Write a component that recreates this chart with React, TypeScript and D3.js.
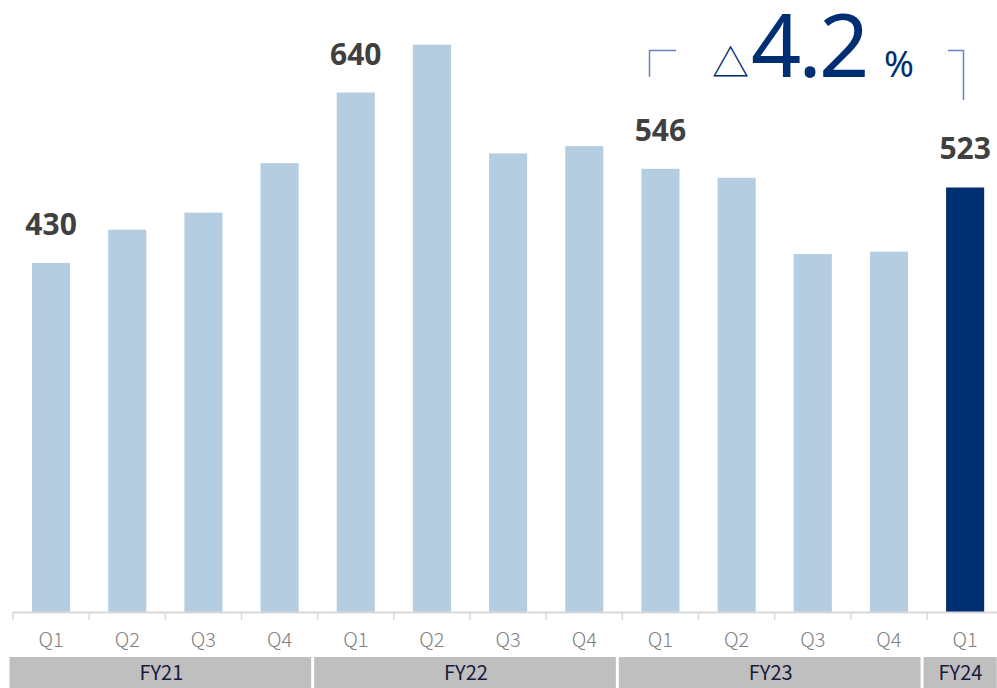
import React, { useRef, useEffect } from 'react';
import * as d3 from 'd3';

const quarters = ['Q1', 'Q2', 'Q3', 'Q4', 'Q1', 'Q2', 'Q3', 'Q4', 'Q1', 'Q2', 'Q3', 'Q4', 'Q1'];
const years = ['FY21', 'FY21', 'FY21', 'FY21', 'FY22', 'FY22', 'FY22', 'FY22', 'FY23', 'FY23', 'FY23', 'FY23', 'FY24'];
const sales = [430, 471, 492, 553, 640, 699, 565, 574, 546, 535, 441, 444, 523];
// which bars carry a value label
const labelled = [0, 4, 8, 12];
const yearGroups = ['FY21', 'FY22', 'FY23', 'FY24'];

function App() {
    const ref = useRef<SVGSVGElement>(null);

    useEffect(() => {
        const width = 997;
        const svg = d3.select(ref.current);
        svg.selectAll('*').remove();

        const keys = sales.map((d, i) => years[i] + quarters[i]);
        const step = 76.17;
        const x = d3.scaleBand().domain(keys).range([13, 13 + step * keys.length])
            .paddingInner(0.5).paddingOuter(0.25);
        const y = d3.scaleLinear().domain([0, 754]).range([612, 0]);

        const font = '"Noto Sans CJK JP", "Noto Sans", sans-serif';

        // bars
        svg.selectAll('rect.bar')
            .data(sales)
            .join('rect')
            .attr('class', 'bar')
            .attr('x', (d, i) => x(keys[i]))
            .attr('y', d => y(d))
            .attr('width', x.bandwidth())
            .attr('height', d => y(0) - y(d))
            .attr('fill', (d, i) => i === sales.length - 1 ? '#002e73' : '#b4cde0');

        // value labels
        svg.selectAll('text.val')
            .data(labelled)
            .join('text')
            .attr('class', 'val')
            .attr('x', i => x(keys[i]) + x.bandwidth() / 2)
            .attr('y', i => y(sales[i]) - 28)
            .attr('text-anchor', 'middle')
            .attr('fill', '#404040')
            .style('font-family', '"Noto Sans", sans-serif')
            .style('font-weight', 'bold')
            .style('font-size', '30px')
            .text(i => sales[i]);

        // axis line and ticks
        svg.append('line')
            .attr('x1', 13).attr('x2', width)
            .attr('y1', y(0) + 0.5).attr('y2', y(0) + 0.5)
            .attr('stroke', '#d9d9d9').attr('stroke-width', 2);

        svg.selectAll('line.tick')
            .data(d3.range(keys.length + 1))
            .join('line')
            .attr('class', 'tick')
            .attr('x1', i => 13 + i * x.step())
            .attr('x2', i => 13 + i * x.step())
            .attr('y1', y(0))
            .attr('y2', y(0) + 8)
            .attr('stroke', '#d9d9d9').attr('stroke-width', 1.5);

        svg.selectAll('text.q')
            .data(quarters)
            .join('text')
            .attr('class', 'q')
            .attr('x', (d, i) => x(keys[i]) + x.bandwidth() / 2)
            .attr('y', 647)
            .attr('text-anchor', 'middle')
            .attr('fill', '#808080')
            .style('font-family', font)
            .style('font-weight', 300)
            .style('font-size', '20px')
            .text(d => d);

        // fiscal year boxes
        const groups = yearGroups.map(g => {
            const idx = years.map((yy, i) => yy === g ? i : -1).filter(i => i >= 0);
            return { name: g, start: 13 + idx[0] * x.step(), end: 13 + (idx[idx.length - 1] + 1) * x.step() };
        });

        const fy = svg.selectAll('g.fy')
            .data(groups)
            .join('g')
            .attr('class', 'fy');

        fy.append('rect')
            .attr('x', d => d.start - 3.5)
            .attr('y', 657)
            .attr('width', d => d.end - d.start - 3)
            .attr('height', 31)
            .attr('fill', '#bfbfbf');

        fy.append('text')
            .attr('x', d => Math.min((d.start + d.end) / 2 - 4, (d.start - 3 + width) / 2))
            .attr('y', 680)
            .attr('text-anchor', 'middle')
            .attr('fill', '#1a1a40')
            .style('font-family', font)
            .style('font-size', '20px')
            .text(d => d.name);

        // change annotation
        const ann = svg.append('g');
        ann.append('path')
            .attr('d', 'M649.5,77V50.5H676')
            .attr('fill', 'none').attr('stroke', '#6585c4').attr('stroke-width', 1.5);
        ann.append('path')
            .attr('d', 'M948,50.5H963.5V100')
            .attr('fill', 'none').attr('stroke', '#6585c4').attr('stroke-width', 1.5);

        ann.append('text')
            .attr('x', 712)
            .attr('y', 77)
            .attr('fill', '#002e73')
            .style('font-family', font)
            .style('font-size', '37px')
            .text('△');
        ann.append('text')
            .attr('x', 751)
            .attr('y', 77)
            .attr('fill', '#002e73')
            .style('font-family', '"Noto Sans", sans-serif')
            .style('font-size', '88px')
            .style('letter-spacing', '-3px')
            .text('4.2');
        ann.append('text')
            .attr('x', 884)
            .attr('y', 77)
            .attr('fill', '#002e73')
            .style('font-family', '"Noto Sans", sans-serif')
            .style('font-size', '36px')
            .text('%');
    }, []);

    return (
        <svg ref={ref} width="997" height="688"
            style={{ position: 'absolute', left: 0, top: 0, background: '#fff' }} />
    );
}

export default App;
